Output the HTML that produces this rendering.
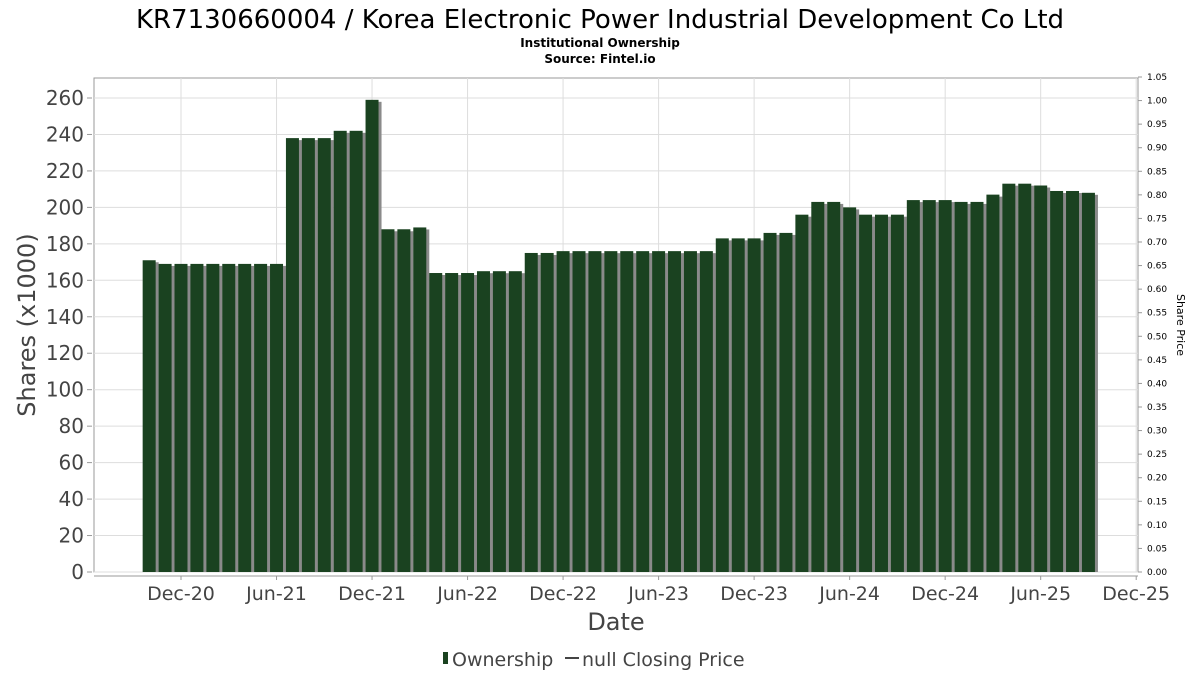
<!DOCTYPE html>
<html><head><meta charset="utf-8"><style>
html,body{margin:0;padding:0;background:#fff;}
svg{display:block;font-family:"DejaVu Sans","Liberation Sans",sans-serif;}
</style></head><body>
<svg id="chart" width="1200" height="675" viewBox="0 0 1200 675" xmlns="http://www.w3.org/2000/svg">
<text x="600" y="28" text-anchor="middle" font-size="26" fill="#000">KR7130660004 / Korea Electronic Power Industrial Development Co Ltd</text>
<text x="600" y="47" text-anchor="middle" font-size="12" font-weight="bold" fill="#000">Institutional Ownership</text>
<text x="600" y="63" text-anchor="middle" font-size="12" font-weight="bold" fill="#000">Source: Fintel.io</text>
<g id="grid"></g>
<g id="bars"></g>
<g id="axes"></g>
<text transform="translate(35,325) rotate(-90)" text-anchor="middle" font-size="24" fill="#444">Shares (x1000)</text>
<text transform="translate(1177,325) rotate(90)" text-anchor="middle" font-size="11" fill="#000">Share Price</text>
<text x="616" y="630" text-anchor="middle" font-size="24" fill="#444">Date</text>
<g>
<rect x="443" y="652" width="5" height="12" fill="#1a4220"/>
<text x="452" y="666" font-size="19" fill="#444">Ownership</text>
<line x1="565" y1="658" x2="579" y2="658" stroke="#444" stroke-width="2"/>
<text x="582" y="666" font-size="19" fill="#444">null Closing Price</text>
</g>
</svg>
<script>
const ownership = [171,169,169,169,169,169,169,169,169,238,238,238,242,242,259,188,188,189,164,164,164,165,165,165,175,175,176,176,176,176,176,176,176,176,176,176,183,183,183,186,186,196,203,203,200,196,196,196,204,204,204,203,203,207,213,213,212,209,209,208];
const yTicks = [0,20,40,60,80,100,120,140,160,180,200,220,240,260];
const y2Ticks = ["0.00","0.05","0.10","0.15","0.20","0.25","0.30","0.35","0.40","0.45","0.50","0.55","0.60","0.65","0.70","0.75","0.80","0.85","0.90","0.95","1.00","1.05"];
const xLabels = ["Dec-20","Jun-21","Dec-21","Jun-22","Dec-22","Jun-23","Dec-23","Jun-24","Dec-24","Jun-25","Dec-25"];
const firstBarMonthOffset = -2; // first bar is Oct-20, two months before Dec-20

const NS="http://www.w3.org/2000/svg";
const L=94,R=1138,T=78,B=572;
const y=v=>B-v*(B-98)/260;
const y2=v=>B-v*(B-77)/1.05;
const monthX=m=>181+m*15.92; // m months from Dec-20
function mk(tag,attrs,parent,text){const e=document.createElementNS(NS,tag);for(const k in attrs)e.setAttribute(k,attrs[k]);if(text!==undefined)e.textContent=text;parent.appendChild(e);return e;}
const grid=document.getElementById('grid'),bars=document.getElementById('bars'),axes=document.getElementById('axes');
mk('rect',{x:L,y:T,width:R-L,height:B-T,fill:'#fff',stroke:'#999','stroke-width':1},grid);
yTicks.forEach(v=>{
  const g=mk('line',{x1:L,x2:R,y1:y(v),y2:y(v),stroke:'#ddd','stroke-width':1},grid);
  
  
  const t=mk('text',{x:84,y:y(v)+7,'text-anchor':'end','font-size':20,fill:'#444'},axes,String(v));
  
  
  mk('line',{x1:87,x2:92,y1:y(v),y2:y(v),stroke:'#999'},axes);
});
xLabels.forEach((lab,i)=>{
  const x=monthX(i*6);
  const g=mk('line',{x1:x,x2:x,y1:T,y2:B,stroke:'#ddd','stroke-width':1},grid);
  
  
  mk('line',{x1:x,x2:x,y1:576,y2:580,stroke:'#999'},axes);
  const t=mk('text',{x:x,y:600,'text-anchor':'middle','font-size':19,fill:'#444'},axes,lab);
  
  
});
y2Ticks.forEach(s=>{
  const v=parseFloat(s);
  mk('line',{x1:R,x2:R+4,y1:y2(v),y2:y2(v),stroke:'#999'},axes);
  const t=mk('text',{x:1147,y:y2(v)+3,'font-size':9,fill:'#000'},axes,s);
  
  
});
mk('line',{x1:L,x2:R,y1:576,y2:576,stroke:'#999'},axes);
ownership.forEach((v,i)=>{
  const cx=monthX(i+firstBarMonthOffset);
  const s=mk('rect',{x:cx-6.5+3,y:y(v)+2,width:13,height:B-y(v)-2,fill:'#8a8a8a'},bars);
  
  
  const b=mk('rect',{x:cx-6.5,y:y(v),width:13,height:B-y(v),fill:'#1a4220'},bars);
  
  
});
</script>
</body></html>
